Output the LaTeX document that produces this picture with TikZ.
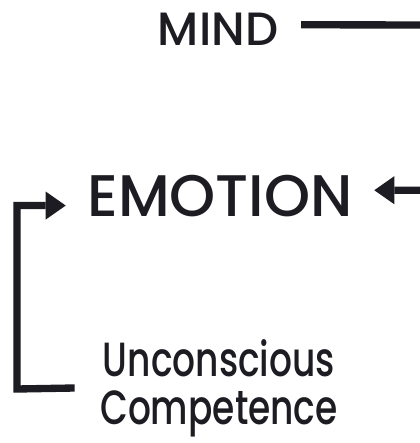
\documentclass[tikz,border=0pt]{standalone}
\usepackage{fontspec}
\setmainfont{Poppins}[UprightFont=* Medium]
\newfontfamily\narrowfont{Poppins}[UprightFont=* Medium,FakeStretch=0.75]
\usetikzlibrary{arrows.meta,positioning}
\definecolor{ink}{RGB}{28,28,34}

\begin{document}
\begin{tikzpicture}[
  x=0.75pt,y=-0.75pt,
  word/.style={text=ink,inner ysep=0pt},
  link/.style={draw=ink,line width=5.5pt},
  arrow/.style={link,-{Triangle[length=15pt,width=21pt,line width=0pt]}}
]
\useasboundingbox (0,0) rectangle (420,443);
\node[word,inner xsep=17pt,anchor=base,font=\fontsize{35}{35}\selectfont] (mind) at (218,45) {MIND};
\node[word,inner xsep=16pt,anchor=base,font=\fontsize{44}{44}\selectfont] (emotion) at (220,216) {EMOTION};
\node[word,inner xsep=19pt,align=center,font=\narrowfont\fontsize{36}{36}\selectfont] (comp) at (219,388) {Unconscious\\Competence};
\coordinate (turn) at (432,25);
\coordinate (back) at (17,389);
\draw[arrow] (comp.west) -- (back) |- ([yshift=-7.5pt]emotion.west);
\draw[arrow] ([yshift=3pt]mind.east) -- (turn) |- ([yshift=4pt]emotion.east);
\end{tikzpicture}
\end{document}
